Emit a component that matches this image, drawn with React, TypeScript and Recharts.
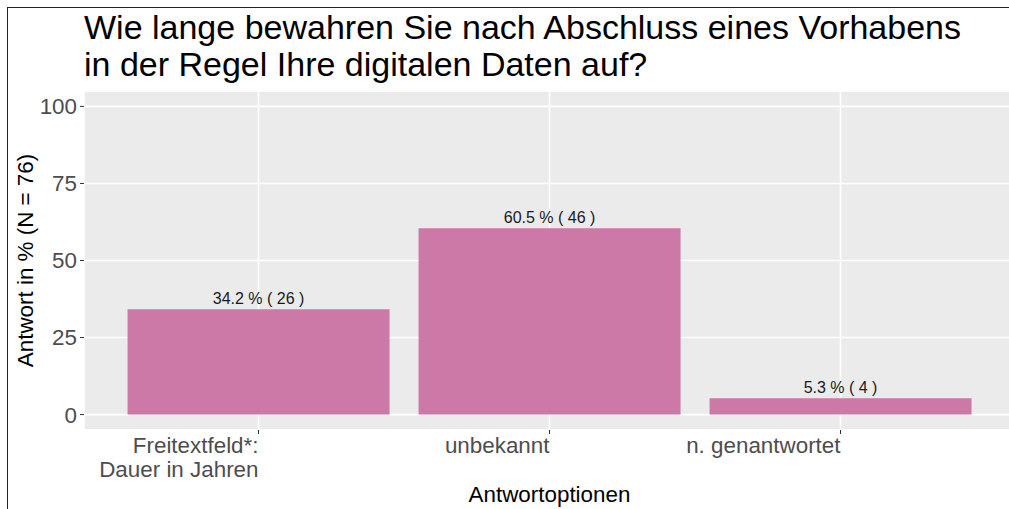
import { Bar, BarChart, CartesianGrid, LabelList, XAxis, YAxis } from 'recharts'

const CATEGORIES = ['Freitextfeld*:\nDauer in Jahren', 'unbekannt', 'n. genantwortet']
const PERCENT = [34.2, 60.5, 5.3]
const COUNTS = [26, 46, 4]
const Y_TICKS = [0, 25, 50, 75, 100]
const Y_MINOR = [12.5, 37.5, 62.5, 87.5]
const Y_DOMAIN = [-5, 105]

const TITLE = ['Wie lange bewahren Sie nach Abschluss eines Vorhabens', 'in der Regel Ihre digitalen Daten auf?']
const Y_TITLE = 'Antwort in % (N = 76)'
const X_TITLE = 'Antwortoptionen'

const FONT = '"Liberation Sans", Arial, sans-serif'
const BAR_COLOR = '#CC79A7'
const PANEL = '#EBEBEB'
const TICK_TEXT = '#4D4D4D'
const AXIS_FONT = 22.4

const data = CATEGORIES.map((name, i) => ({
  name,
  pct: PERCENT[i],
  label: `${PERCENT[i].toFixed(1)} % ( ${COUNTS[i]} )`,
}))

function XTick(props: any) {
  const { x, y, payload } = props
  const lines = String(payload.value).split('\n')
  return (
    <g>
      <text x={x} y={y} textAnchor="end" fill={TICK_TEXT} fontSize={AXIS_FONT} fontFamily={FONT}>
        {lines.map((line, i) => (
          <tspan key={i} x={x} dy={i === 0 ? 17 : 24}>
            {line}
          </tspan>
        ))}
      </text>
    </g>
  )
}

function YTitle(props: any) {
  const vb = props.viewBox || { x: 0, y: 0, width: 0, height: 0 }
  const cx = vb.x + 33
  const cy = vb.y + vb.height / 2
  return (
    <text
      x={cx}
      y={cy}
      transform={`rotate(-90 ${cx} ${cy})`}
      textAnchor="middle"
      fill="#000"
      fontSize={AXIS_FONT}
      fontFamily={FONT}
    >
      {Y_TITLE}
    </text>
  )
}

export default function App() {
  return (
    <div
      style={{
        position: 'absolute',
        left: 0,
        top: 0,
        width: 1009,
        height: 509,
        overflow: 'hidden',
        background: '#fff',
        fontFamily: FONT,
      }}
    >
      <div
        style={{
          position: 'absolute',
          left: 7,
          top: 7,
          width: 1100,
          height: 600,
          borderLeft: '1px solid #222',
          borderTop: '1px solid #222',
        }}
      />
      <div
        style={{
          position: 'absolute',
          left: 84,
          top: 9,
          fontSize: 34,
          lineHeight: '37px',
          color: '#000',
          whiteSpace: 'nowrap',
        }}
      >
        {TITLE.map((t) => (
          <div key={t}>{t}</div>
        ))}
      </div>
      <div style={{ position: 'absolute', left: 0, top: 0 }}>
        <BarChart
          width={1015}
          height={509}
          data={data}
          margin={{ top: 91, right: 0, bottom: 0, left: 0 }}
          barCategoryGap="5%"
        >
          <CartesianGrid
            vertical={false}
            yAxisId="minor"
            fill={PANEL}
            stroke="#FFFFFF"
            strokeWidth={0.8}
          />
          <CartesianGrid stroke="#FFFFFF" strokeWidth={1.6} />
          <XAxis
            dataKey="name"
            interval={0}
            height={79}
            padding={{ left: 29, right: 29 }}
            axisLine={false}
            tickSize={4}
            tickMargin={2}
            tickLine={{ stroke: '#333333' }}
            tick={<XTick />}
            label={{
              value: X_TITLE,
              position: 'insideBottom',
              offset: 7,
              fill: '#000',
              fontSize: AXIS_FONT,
              fontFamily: FONT,
            }}
          />
          <YAxis
            type="number"
            domain={Y_DOMAIN}
            ticks={Y_TICKS}
            width={84}
            axisLine={false}
            tickSize={4}
            tickMargin={3}
            tickLine={{ stroke: '#333333' }}
            tick={{ fill: TICK_TEXT, fontSize: AXIS_FONT, fontFamily: FONT }}
            label={<YTitle />}
          />
          <YAxis yAxisId="minor" type="number" domain={Y_DOMAIN} ticks={Y_MINOR} hide />
          <Bar dataKey="pct" fill={BAR_COLOR} isAnimationActive={false}>
            <LabelList
              dataKey="label"
              position="top"
              offset={5}
              fill="#1a1a1a"
              fontSize={16}
              fontFamily={FONT}
            />
          </Bar>
        </BarChart>
      </div>
    </div>
  )
}
